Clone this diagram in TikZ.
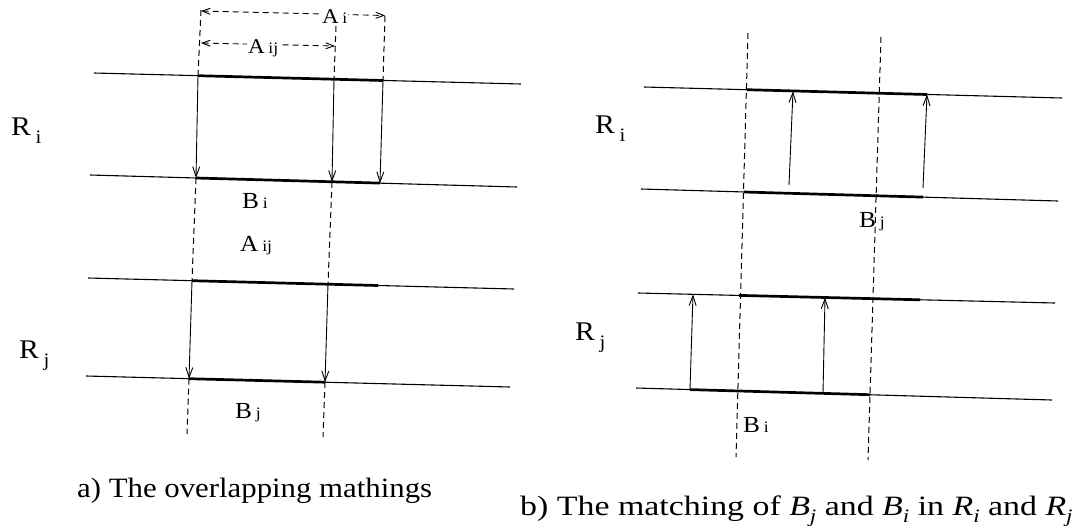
\documentclass[tikz,border=0pt]{standalone}
\usepackage{fontspec}
\setmainfont[FakeStretch=1.1]{Liberation Serif}
\usetikzlibrary{arrows.meta}
\newcommand\smallsub[1]{{\fontsize{16}{16}\selectfont #1}}
\newcommand\lowsub[1]{\raisebox{-0.32em}{\fontsize{19}{19}\selectfont #1}}
\newcommand\capvar[2]{\textit{#1}\raisebox{-0.25em}{\fontsize{19}{19}\selectfont\itshape #2}}
\tikzset{
  thinline/.style={line width=1.1pt},
  thickseg/.style={line width=2.7pt},
  dashv/.style={line width=1pt, dash pattern=on 6pt off 4pt},
  arr/.style={line width=0.9pt, -{Straight Barb[length=10pt,width=7pt]}},
  dimarr/.style={line width=0.9pt, dash pattern=on 6pt off 4pt, {Straight Barb[length=8pt,width=6pt]}-{Straight Barb[length=8pt,width=6pt]}},
  lab/.style={font=\fontsize{23}{25}\selectfont, inner sep=0pt, anchor=base west},
  rlab/.style={font=\fontsize{27}{30}\selectfont, inner sep=0pt, anchor=base west},
  dimlab/.style={font=\fontsize{21}{24}\selectfont, inner sep=1pt, anchor=base west, fill=white},
  caplab/.style={font=\fontsize{28}{32}\selectfont, inner sep=0pt, anchor=base west}
}
\begin{document}
\begin{tikzpicture}[x=1pt,y=-1pt]
\useasboundingbox (0,0) rectangle (1077,531);
% ---------------- left panel ----------------
\coordinate (LiT1) at (94,73);   \coordinate (LiT2) at (521,84);
\coordinate (LiTa) at (198,75.7); \coordinate (LiTm) at (334,79.2); \coordinate (LiTb) at (383,80.5);
\coordinate (LiB1) at (90,175);  \coordinate (LiB2) at (517,187);
\coordinate (LiBa) at (196,178); \coordinate (LiBm) at (332,181.8); \coordinate (LiBb) at (380,183.1);
\coordinate (LjT1) at (88,278);  \coordinate (LjT2) at (514,289);
\coordinate (LjTa) at (192,280.7); \coordinate (LjTm) at (328,284.2); \coordinate (LjTb) at (378,285.5);
\coordinate (LjB1) at (86,376);  \coordinate (LjB2) at (510,387);
\coordinate (LjBa) at (189,378.7); \coordinate (LjBm) at (325,382.2);
\coordinate (LdA) at (201,10); \coordinate (LdM) at (336,26); \coordinate (LdB) at (385,16);
\coordinate (LeA) at (187,434); \coordinate (LeM) at (323,437);
\coordinate (DimAiL) at (201,11); \coordinate (DimAiR) at (385,15.5);
\coordinate (DimAijL) at (201,43); \coordinate (DimAijR) at (335,46);

\draw[thinline] (LiT1) -- (LiT2);
\draw[thinline] (LiB1) -- (LiB2);
\draw[thinline] (LjT1) -- (LjT2);
\draw[thinline] (LjB1) -- (LjB2);
\draw[thickseg] (LiTa) -- (LiTb);
\draw[thickseg] (LiBa) -- (LiBb);
\draw[thickseg] (LjTa) -- (LjTb);
\draw[thickseg] (LjBa) -- (LjBm);

\draw[dashv] (LdA) -- (LiTa);
\draw[dashv] (LdM) -- (LiTm);
\draw[dashv] (LdB) -- (LiTb);
\draw[dashv] (LiBa) -- (LjTa);
\draw[dashv] (LiBm) -- (LjTm);
\draw[dashv] (LjBa) -- (LeA);
\draw[dashv] (LjBm) -- (LeM);

\draw[arr] (LiTa) -- (LiBa);
\draw[arr] (LiTm) -- (LiBm);
\draw[arr] (LiTb) -- (LiBb);
\draw[arr] (LjTa) -- (LjBa);
\draw[arr] (LjTm) -- (LjBm);

\draw[dimarr] (DimAiL) -- (DimAiR);
\draw[dimarr] (DimAijL) -- (DimAijR);
\node[dimlab] (lAi) at (321,23) {A\,\smallsub{i}};
\node[dimlab] (lAij) at (247,53) {A\,\smallsub{ij}};

\node[rlab] (lRi) at (11,135) {R\,\lowsub{i}};
\node[lab] (lBi) at (242,208) {B\,\smallsub{i}};
\node[lab] (lAij2) at (240,251) {A\,\smallsub{ij}};
\node[rlab] (lRj) at (19,358) {R\,\lowsub{j}};
\node[lab] (lBj) at (235,418) {B\,\smallsub{j}};
\node[caplab] (capA) at (77,497) {a) The overlapping mathings};

% ---------------- right panel ----------------
\coordinate (RiT1) at (644,87);  \coordinate (RiT2) at (1062,98);
\coordinate (RiTa) at (747,89.7); \coordinate (RiTb) at (927,94.5);
\coordinate (RiB1) at (641,189); \coordinate (RiB2) at (1058,201);
\coordinate (RiBa) at (744,192); \coordinate (RiBb) at (923,197.1);
\coordinate (RjT1) at (638,293); \coordinate (RjT2) at (1055,303);
\coordinate (RjTa) at (739,295.4); \coordinate (RjTb) at (920,299.8);
\coordinate (RjB1) at (636,388); \coordinate (RjB2) at (1052,400);
\coordinate (RjBa) at (690,389.6); \coordinate (RjBb) at (870,394.7);
\coordinate (Ua1) at (789,185); \coordinate (Ua1t) at (793,91.3);
\coordinate (Ua2) at (923,188); \coordinate (Ua2t) at (927,94.5);
\coordinate (Ub1) at (690,389.6); \coordinate (Ub1t) at (693,294.3);
\coordinate (Ub2) at (823,393.4); \coordinate (Ub2t) at (825,297.5);
\coordinate (RdL1) at (748,33); \coordinate (RdL2) at (736,457);
\coordinate (RdR1) at (881,37); \coordinate (RdR2) at (868,460);

\draw[thinline] (RiT1) -- (RiT2);
\draw[thinline] (RiB1) -- (RiB2);
\draw[thinline] (RjT1) -- (RjT2);
\draw[thinline] (RjB1) -- (RjB2);
\draw[thickseg] (RiTa) -- (RiTb);
\draw[thickseg] (RiBa) -- (RiBb);
\draw[thickseg] (RjTa) -- (RjTb);
\draw[thickseg] (RjBa) -- (RjBb);
\draw[dashv] (RdL1) -- (RdL2);
\draw[dashv] (RdR1) -- (RdR2);
\draw[arr] (Ua1) -- (Ua1t);
\draw[arr] (Ua2) -- (Ua2t);
\draw[arr] (Ub1) -- (Ub1t);
\draw[arr] (Ub2) -- (Ub2t);

\node[rlab] (rRi) at (595,133) {R\,\lowsub{i}};
\node[lab] (rBj) at (859,227) {B\,\smallsub{j}};
\node[rlab] (rRj) at (575,340) {R\,\lowsub{j}};
\node[lab] (rBi) at (743,432) {B\,\smallsub{i}};
\node[caplab, xscale=1.1, transform shape] (capB) at (520,515) {b) The matching of \capvar{B}{j} and \capvar{B}{i} in \capvar{R}{i} and \capvar{R}{j}};
\end{tikzpicture}
\end{document}
